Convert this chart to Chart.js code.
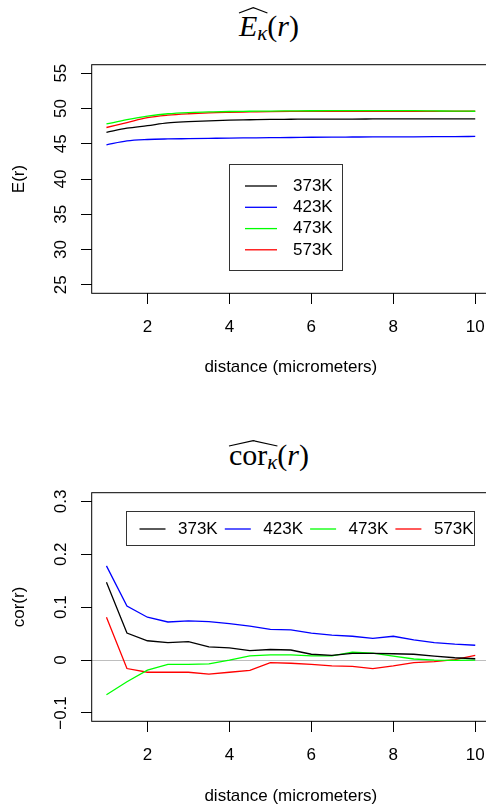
<!DOCTYPE html>
<html>
<head>
<meta charset="utf-8">
<script src="https://cdn.jsdelivr.net/npm/chart.js@4.4.0/dist/chart.umd.min.js"></script>
<style>
  html, body { margin: 0; padding: 0; background: #fff; }
  body { width: 486px; height: 808px; overflow: hidden; position: relative; font-family: "Liberation Sans", Arial, sans-serif; }
  .panel { position: absolute; left: 0; width: 500px; height: 404px; }
  .ttl { position: absolute; left: 0; width: 538px; text-align: center; font-family: "Liberation Serif", "Times New Roman", serif; font-size: 30px; line-height: 1; white-space: nowrap; }
  .ttl i { font-style: italic; }
  .hat { position: relative; display: inline-block; }
  .hat svg { position: absolute; left: 0; width: 100%; height: 6px; overflow: visible; }
  .sub { font-size: 21px; position: relative; top: 4px; font-style: italic; }
  .legend { position: absolute; border: 1px solid #333; box-sizing: border-box; font-size: 17px; }
  .lb { position: absolute; height: 20px; line-height: 20px; white-space: nowrap; }
</style>
</head>
<body>

<div class="ttl" style="top:11px;">
  <span class="hat"><svg style="top:-4px" viewBox="0 0 100 10" preserveAspectRatio="none"><polyline points="0,10 50,1 100,10" fill="none" stroke="#000" stroke-width="1.2" vector-effect="non-scaling-stroke"/></svg><i>E</i><span class="sub">κ</span></span>(<i>r</i>)
</div>
<div class="panel" style="top:0;"><canvas id="topChart" width="500" height="404"></canvas></div>
<div class="legend" id="topLegend" style="left:229px; top:164px; width:114px; height:107px;"></div>

<div class="ttl" style="top:440px;">
  <span class="hat"><svg style="top:-0.5px" viewBox="0 0 100 10" preserveAspectRatio="none"><polyline points="0,10 50,1 100,10" fill="none" stroke="#000" stroke-width="1.2" vector-effect="non-scaling-stroke"/></svg>cor<span class="sub">κ</span></span>(<i>r</i>)
</div>
<div class="panel" style="top:404px;"><canvas id="corChart" width="500" height="404"></canvas></div>
<div class="legend" id="corLegend" style="left:126px; top:511px; width:349px; height:35px;"></div>

<script>
// distances (micrometers)
const distance = [1, 1.5, 2, 2.5, 3, 3.5, 4, 4.5, 5, 5.5, 6, 6.5, 7, 7.5, 8, 8.5, 9, 9.5, 10];
const seriesLabels = ['373K', '423K', '473K', '573K'];
const seriesColors = ['#000000', '#0000ff', '#00ff00', '#ff0000'];

const xTicks = [2, 4, 6, 8, 10];
const eTicks = [25, 30, 35, 40, 45, 50, 55];
const corTicks = [-0.1, 0, 0.1, 0.2, 0.3];

// E(r) curves
const e373 = [46.6, 47.2, 47.56, 47.95, 48.12, 48.25, 48.35, 48.4, 48.45, 48.47, 48.49, 48.5, 48.5, 48.51, 48.52, 48.53, 48.53, 48.53, 48.53];
const e423 = [44.85, 45.4, 45.6, 45.68, 45.72, 45.76, 45.8, 45.83, 45.86, 45.88, 45.92, 45.94, 45.95, 45.96, 45.96, 45.98, 46.0, 46.02, 46.03];
const e473 = [47.8, 48.4, 48.9, 49.25, 49.42, 49.5, 49.57, 49.6, 49.63, 49.65, 49.67, 49.68, 49.68, 49.7, 49.7, 49.68, 49.65, 49.62, 49.6];
const e573 = [47.3, 48.0, 48.7, 49.05, 49.25, 49.38, 49.45, 49.5, 49.55, 49.58, 49.6, 49.6, 49.6, 49.6, 49.6, 49.6, 49.6, 49.6, 49.6];

// cor(r) curves
const cor373 = [0.147, 0.051, 0.0365, 0.033, 0.035, 0.025, 0.023, 0.018, 0.020, 0.019, 0.011, 0.009, 0.0126, 0.0126, 0.012, 0.011, 0.0076, 0.0044, 0.0025];
const cor423 = [0.178, 0.102, 0.081, 0.072, 0.074, 0.0725, 0.069, 0.064, 0.058, 0.057, 0.051, 0.047, 0.045, 0.041, 0.045, 0.038, 0.033, 0.030, 0.028];
const cor473 = [-0.0655, -0.041, -0.019, -0.008, -0.008, -0.007, 0, 0.008, 0.010, 0.010, 0.008, 0.008, 0.015, 0.013, 0.0076, 0.002, 0, -0.0006, 0];
const cor573 = [0.081, -0.016, -0.023, -0.023, -0.023, -0.0265, -0.023, -0.0195, -0.005, -0.006, -0.008, -0.011, -0.012, -0.016, -0.011, -0.005, -0.003, 0.001, 0.009];

Chart.defaults.font.family = '"Liberation Sans", Arial, sans-serif';
Chart.defaults.font.size = 17;
Chart.defaults.color = '#000';

// plot frame like R's box(), plus the legend line samples
const boxPlugin = {
  id: 'box',
  afterDraw(chart, args, opts) {
    const a = chart.chartArea, c = chart.ctx;
    c.save();
    c.strokeStyle = '#000';
    c.lineWidth = 1;
    c.strokeRect(a.left, a.top, a.right - a.left, a.bottom - a.top);
    c.lineWidth = 1.3;
    (opts.swatches || []).forEach((s, i) => {
      c.strokeStyle = seriesColors[i];
      c.beginPath();
      c.moveTo(s[0], s[2]);
      c.lineTo(s[1], s[2]);
      c.stroke();
    });
    c.restore();
  }
};

function makeChart(id, series, opt) {
  const datasets = series.map((vals, i) => ({
    label: seriesLabels[i],
    data: distance.map((d, k) => ({ x: d, y: vals[k] })),
    borderColor: seriesColors[i],
    borderWidth: 1.3,
    pointRadius: 0,
    fill: false,
    cubicInterpolationMode: opt.smooth ? 'monotone' : 'default',
    tension: 0
  }));

  return new Chart(document.getElementById(id), {
    type: 'line',
    data: { datasets: datasets },
    plugins: [boxPlugin],
    options: {
      responsive: false,
      animation: false,
      events: [],
      layout: { autoPadding: false, padding: { left: 0, right: 10, top: opt.top, bottom: 0 } },
      plugins: {
        legend: { display: false },
        tooltip: { enabled: false },
        box: { swatches: opt.swatches }
      },
      scales: {
        x: {
          type: 'linear',
          min: 0.64,
          max: 10.36,
          afterBuildTicks: s => { s.ticks = xTicks.map(v => ({ value: v })); },
          afterFit: s => { s.height = opt.xHeight; },
          border: { display: false },
          grid: { drawOnChartArea: false, tickLength: 10.7, tickColor: '#000' },
          ticks: { padding: 13, maxRotation: 0, autoSkip: false, callback: v => String(v) },
          title: { display: true, text: 'distance (micrometers)', padding: { top: 0, bottom: opt.xTitlePad } }
        },
        y: {
          type: 'linear',
          min: opt.yMin,
          max: opt.yMax,
          afterBuildTicks: s => { s.ticks = opt.yTicks.map(v => ({ value: v })); },
          afterFit: s => { s.width = 91.7; },
          border: { display: false },
          grid: {
            drawOnChartArea: !!opt.zeroLine,
            color: ctx => (opt.zeroLine && ctx.tick && ctx.tick.value === 0) ? '#bebebe' : 'rgba(0,0,0,0)',
            tickLength: 10.7,
            tickColor: '#000'
          },
          ticks: {
            minRotation: 90,
            maxRotation: 90,
            crossAlign: 'center',
            padding: opt.yPad,
            callback: v => v < 0 ? '\u2212' + Math.abs(v) : String(v)
          },
          title: { display: true, text: opt.yTitle, padding: { top: 8.8, bottom: 0 } }
        }
      }
    }
  });
}

makeChart('topChart', [e373, e423, e473, e573], {
  top: 64.7, xHeight: 110.7, xTitlePad: 26, yMin: 23.8, yMax: 56.2, yTicks: eTicks,
  yTitle: 'E(r)', yPad: 10.7, smooth: true,
  swatches: [[245, 277, 186], [245, 277, 207.3], [245, 277, 228.6], [245, 277, 249.8]]
});

makeChart('corChart', [cor373, cor423, cor473, cor573], {
  top: 88.7, xHeight: 86.7, xTitlePad: 1.4, yMin: -0.1157, yMax: 0.3163, yTicks: corTicks,
  yTitle: 'cor(r)', yPad: 3.4, smooth: false, zeroLine: true,
  swatches: [[139.5, 165.5, 125], [224.8, 250.8, 125], [310.1, 336.1, 125], [395.4, 421.4, 125]]
});

// legend labels (HTML text)
function addLabel(box, i, left, top) {
  const lb = document.createElement('span');
  lb.className = 'lb';
  lb.style.left = left + 'px';
  lb.style.top = top + 'px';
  lb.textContent = seriesLabels[i];
  box.appendChild(lb);
}
const topLeg = document.getElementById('topLegend');
seriesLabels.forEach((l, i) => addLabel(topLeg, i, 63, 11 + i * 21.2));
const corLeg = document.getElementById('corLegend');
seriesLabels.forEach((l, i) => addLabel(corLeg, i, 51 + i * 85.3, 7));
</script>
</body>
</html>
